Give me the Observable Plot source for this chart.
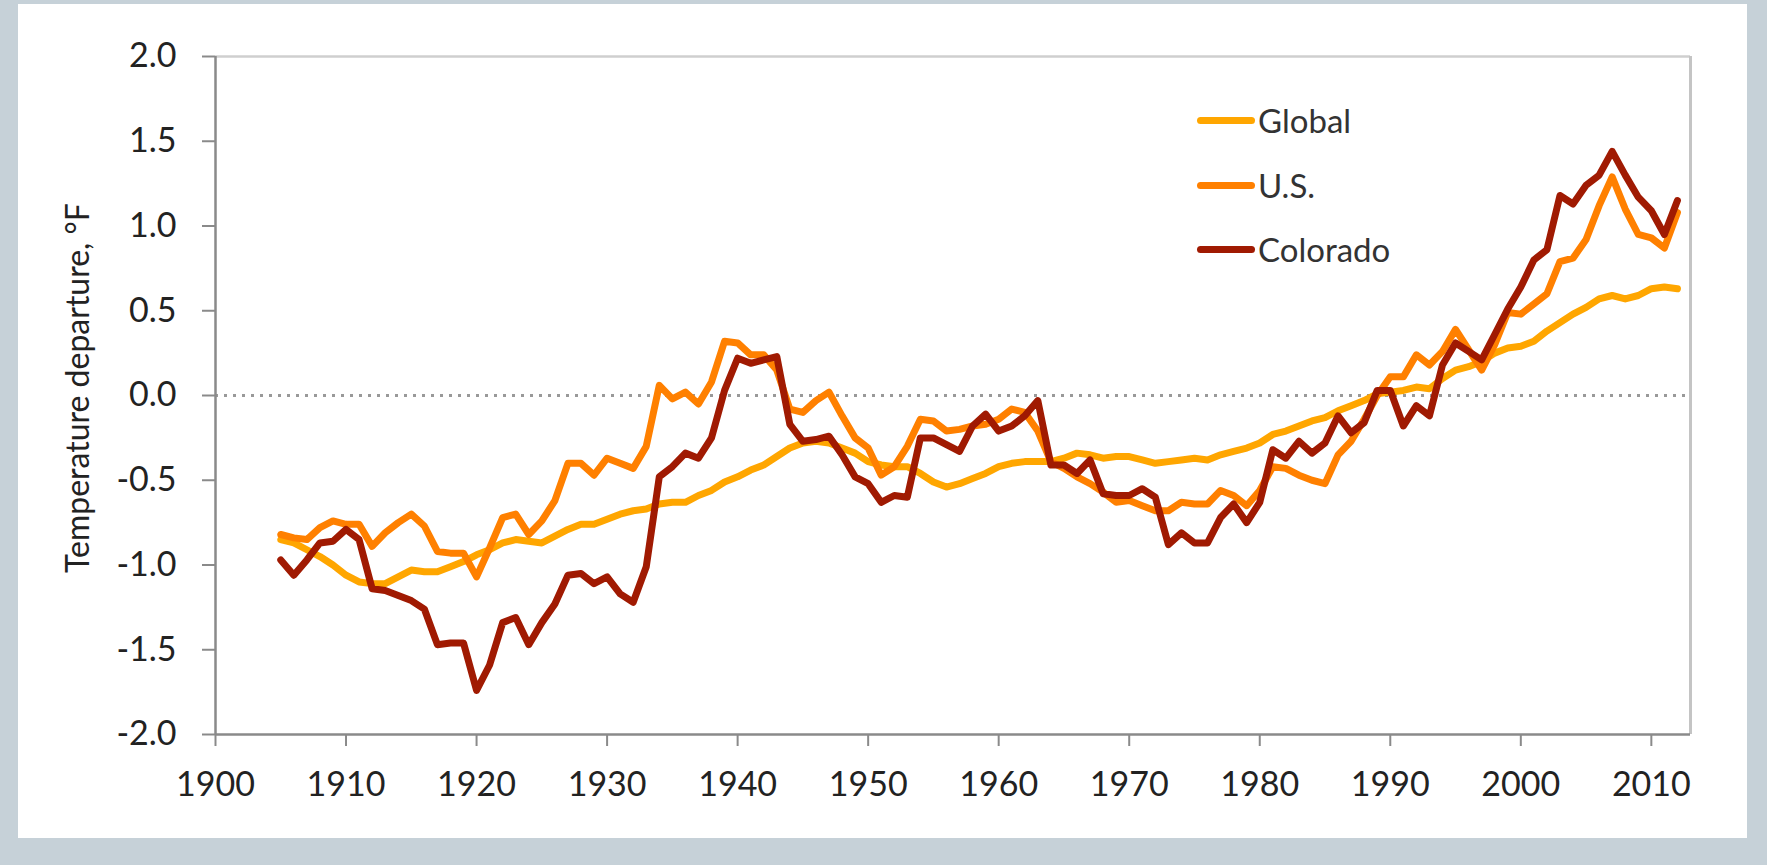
<!DOCTYPE html>
<html>
<head>
<meta charset="utf-8">
<script src="https://cdn.jsdelivr.net/npm/d3@7"></script>
<script src="https://cdn.jsdelivr.net/npm/@observablehq/plot@0.6"></script>
<style>
  html, body { margin: 0; padding: 0; }
  body { width: 1767px; height: 865px; background: #c6d1d8; position: relative; overflow: hidden; font-family: Lato, "Open Sans", sans-serif; }
  #panel { position: absolute; left: 18px; top: 4px; width: 1729px; height: 834px; background: #ffffff; }
  #chart { position: absolute; left: 0; top: 0; }
  #ylabel { position: absolute; left: 76px; top: 388px; transform: translate(-50%, -50%) rotate(-90deg); white-space: nowrap; font-size: 32px; color: #222; font-family: Lato, sans-serif; }
  .leg { position: absolute; left: 1197px; height: 40px; display: flex; align-items: center; font-size: 33px; color: #333; }
  .leg .sw { display: inline-block; width: 58px; height: 7px; border-radius: 3.5px; margin-right: 3px; }
</style>
</head>
<body>
<div id="panel"></div>
<div id="chart"></div>
<div id="ylabel">Temperature departure, °F</div>
<div id="legend"></div>
<script>
const years = d3.range(1905, 2013);

const globalVals = [
  -0.85, -0.87, -0.91, -0.95, -1.00, -1.06, -1.10, -1.11, -1.11, -1.07,
  -1.03, -1.04, -1.04, -1.01, -0.98, -0.94, -0.91, -0.87, -0.85, -0.86,
  -0.87, -0.83, -0.79, -0.76, -0.76, -0.73, -0.70, -0.68, -0.67, -0.64,
  -0.63, -0.63, -0.59, -0.56, -0.51, -0.48, -0.44, -0.41, -0.36, -0.31,
  -0.28, -0.27, -0.28, -0.31, -0.34, -0.39, -0.41, -0.42, -0.42, -0.46,
  -0.51, -0.54, -0.52, -0.49, -0.46, -0.42, -0.40, -0.39, -0.39, -0.39,
  -0.37, -0.34, -0.35, -0.37, -0.36, -0.36, -0.38, -0.40, -0.39, -0.38,
  -0.37, -0.38, -0.35, -0.33, -0.31, -0.28, -0.23, -0.21, -0.18, -0.15,
  -0.13, -0.09, -0.06, -0.03, 0.01, 0.02, 0.03, 0.05, 0.04, 0.10,
  0.15, 0.17, 0.20, 0.25, 0.28, 0.29, 0.32, 0.38, 0.43, 0.48,
  0.52, 0.57, 0.59, 0.57, 0.59, 0.63, 0.64, 0.63
];

const usVals = [
  -0.82, -0.84, -0.85, -0.78, -0.74, -0.76, -0.76, -0.89, -0.81, -0.75,
  -0.70, -0.77, -0.92, -0.93, -0.93, -1.07, -0.90, -0.72, -0.70, -0.82,
  -0.74, -0.62, -0.40, -0.40, -0.47, -0.37, -0.40, -0.43, -0.30, 0.06,
  -0.02, 0.02, -0.05, 0.08, 0.32, 0.31, 0.24, 0.24, 0.15, -0.08,
  -0.10, -0.03, 0.02, -0.12, -0.25, -0.31, -0.47, -0.42, -0.30, -0.14,
  -0.15, -0.21, -0.20, -0.18, -0.17, -0.14, -0.08, -0.10, -0.21, -0.39,
  -0.43, -0.48, -0.52, -0.57, -0.63, -0.62, -0.65, -0.68, -0.68, -0.63,
  -0.64, -0.64, -0.56, -0.59, -0.65, -0.56, -0.42, -0.43, -0.47, -0.50,
  -0.52, -0.35, -0.27, -0.14, 0.00, 0.11, 0.11, 0.24, 0.18, 0.26,
  0.39, 0.27, 0.15, 0.30, 0.49, 0.48, 0.54, 0.60, 0.79, 0.81,
  0.92, 1.12, 1.29, 1.10, 0.95, 0.93, 0.87, 1.08
];

const coloradoVals = [
  -0.97, -1.06, -0.97, -0.87, -0.86, -0.79, -0.85, -1.14, -1.15, -1.18,
  -1.21, -1.26, -1.47, -1.46, -1.46, -1.74, -1.59, -1.34, -1.31, -1.47,
  -1.34, -1.23, -1.06, -1.05, -1.11, -1.07, -1.17, -1.22, -1.01, -0.48,
  -0.42, -0.34, -0.37, -0.25, 0.03, 0.22, 0.19, 0.21, 0.23, -0.17,
  -0.27, -0.26, -0.24, -0.35, -0.48, -0.52, -0.63, -0.59, -0.60, -0.25,
  -0.25, -0.29, -0.33, -0.18, -0.11, -0.21, -0.18, -0.12, -0.03, -0.41,
  -0.41, -0.46, -0.38, -0.58, -0.59, -0.59, -0.55, -0.60, -0.88, -0.81,
  -0.87, -0.87, -0.72, -0.64, -0.75, -0.63, -0.32, -0.37, -0.27, -0.34,
  -0.28, -0.12, -0.22, -0.16, 0.03, 0.03, -0.18, -0.06, -0.12, 0.18,
  0.31, 0.26, 0.21, 0.36, 0.51, 0.64, 0.80, 0.86, 1.18, 1.13,
  1.24, 1.30, 1.44, 1.30, 1.17, 1.09, 0.95, 1.15
];

const seriesNames = ["Global", "U.S.", "Colorado"];
const seriesColors = ["#ffa600", "#ff8000", "#a01a02"];
const xTicks = [1900, 1910, 1920, 1930, 1940, 1950, 1960, 1970, 1980, 1990, 2000, 2010];
const yTicks = [-2.0, -1.5, -1.0, -0.5, 0.0, 0.5, 1.0, 1.5, 2.0];

const seriesValues = [globalVals, usVals, coloradoVals];
const rows = [];
seriesNames.forEach((name, i) => {
  years.forEach((yr, j) => rows.push({year: yr, value: seriesValues[i][j], series: name}));
});

const chart = Plot.plot({
  width: 1767,
  height: 865,
  marginLeft: 215,
  marginRight: 77,
  marginTop: 56,
  marginBottom: 131,
  x: {domain: [1900, 2013]},
  y: {domain: [-2, 2]},
  color: {domain: seriesNames, range: seriesColors},
  style: {fontFamily: "Lato, sans-serif", fontSize: "34px", color: "#222", background: "transparent", overflow: "visible"},
  marks: [
    Plot.ruleY([2], {stroke: "#cfcfcf", strokeWidth: 2.5}),
    Plot.ruleX([2013], {stroke: "#c4c4c4", strokeWidth: 3}),
    Plot.ruleY([0], {stroke: "#999999", strokeWidth: 3, strokeDasharray: "3,6"}),
    Plot.line(rows, {x: "year", y: "value", z: "series", stroke: "series", strokeWidth: 7, strokeLinejoin: "round", strokeLinecap: "round"}),
    Plot.axisX({ticks: xTicks, tickFormat: d => String(d), tickSize: 12, tickPadding: 25, label: null, stroke: "#8a8a8a", strokeWidth: 2}),
    Plot.axisY({ticks: yTicks, tickFormat: d => d.toFixed(1), tickSize: 13, tickPadding: 26, label: null, stroke: "#8a8a8a", strokeWidth: 2}),
    Plot.ruleX([1900], {stroke: "#8a8a8a", strokeWidth: 2.5}),
    Plot.ruleY([-2], {stroke: "#8a8a8a", strokeWidth: 2.5})
  ]
});
document.getElementById("chart").appendChild(chart);

const legendTops = [120, 185, 249];
const legend = document.getElementById("legend");
seriesNames.forEach((name, i) => {
  const item = document.createElement("div");
  item.className = "leg";
  item.style.top = (legendTops[i] - 20) + "px";
  const sw = document.createElement("span");
  sw.className = "sw";
  sw.style.background = seriesColors[i];
  const tx = document.createElement("span");
  tx.textContent = name;
  item.appendChild(sw);
  item.appendChild(tx);
  legend.appendChild(item);
});
</script>
</body>
</html>
